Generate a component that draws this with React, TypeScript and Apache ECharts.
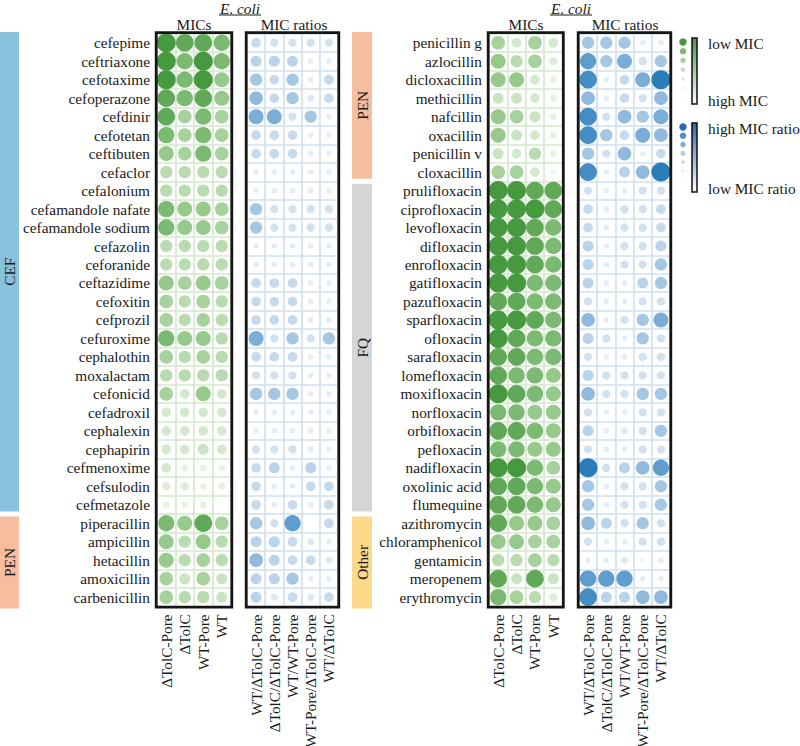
import React, { useEffect, useRef } from "react";
import * as echarts from "echarts";

// ---------- data ----------
const MIC_COLS = ["ΔTolC-Pore", "ΔTolC", "WT-Pore", "WT"];
const RATIO_COLS = ["WT/ΔTolC-Pore", "ΔTolC/ΔTolC-Pore", "WT/WT-Pore", "WT-Pore/ΔTolC-Pore", "WT/ΔTolC"];

const LEFT_DRUGS = [
  "cefepime", "ceftriaxone", "cefotaxime", "cefoperazone", "cefdinir", "cefotetan", "ceftibuten",
  "cefaclor", "cefalonium", "cefamandole nafate", "cefamandole sodium", "cefazolin", "ceforanide",
  "ceftazidime", "cefoxitin", "cefprozil", "cefuroxime", "cephalothin", "moxalactam", "cefonicid",
  "cefadroxil", "cephalexin", "cephapirin", "cefmenoxime", "cefsulodin", "cefmetazole",
  "piperacillin", "ampicillin", "hetacillin", "amoxicillin", "carbenicillin",
];
const LEFT_GROUP_NAMES = ["CEF", "PEN"];
const LEFT_GROUP_SIZES = [26, 5];

const RIGHT_DRUGS = [
  "penicillin g", "azlocillin", "dicloxacillin", "methicillin", "nafcillin", "oxacillin", "penicillin v",
  "cloxacillin", "prulifloxacin", "ciprofloxacin", "levofloxacin", "difloxacin", "enrofloxacin",
  "gatifloxacin", "pazufloxacin", "sparfloxacin", "ofloxacin", "sarafloxacin", "lomefloxacin",
  "moxifloxacin", "norfloxacin", "orbifloxacin", "pefloxacin", "nadifloxacin", "oxolinic acid",
  "flumequine", "azithromycin", "chloramphenicol", "gentamicin", "meropenem", "erythromycin",
];
const RIGHT_GROUP_NAMES = ["PEN", "FQ", "Other"];
const RIGHT_GROUP_SIZES = [8, 18, 5];

// MIC score (0 = high MIC, 6 = low MIC)
const LEFT_MIC: (number | null)[][] = [
  [6, 5.5, 5.5, 5], [6, 5, 6, 5], [6, 5, 6, 4.5], [5.5, 5, 5.5, 4.5], [5.5, 4, 5, 4],
  [5, 4, 5, 4], [4.5, 4, 5, 4], [3.5, 3.5, 3.5, 3.5], [3.5, 3.5, 3.5, 3.5], [5, 4.5, 4.5, 4],
  [5, 4.5, 4.5, 4], [3.5, 3.5, 3.5, 3.5], [3.5, 3.5, 3.5, 3.5], [4.5, 4, 4.5, 4], [4, 3.5, 4, 3.5],
  [4, 3.5, 4, 3.5], [5, 4.5, 4.5, 3.5], [4, 3.5, 4, 3.5], [3.5, 3.5, 3.5, 3.5], [4, 2.5, 4.5, 2.5],
  [2.5, 2.5, 2.5, 2.5], [2.5, 2.5, 2.5, 2.5], [2.5, 2.5, 3, 2.5], [2.5, 1.5, 1.5, 1.5], [2, 2, 1.5, 1.5],
  [1.5, 1.5, 1.5, null], [5, 4.5, 5.5, 4], [4.5, 3.5, 4.5, 3.5], [4.5, 3.5, 4, 3.5], [4, 3, 4, 3],
  [4, 3.5, 3.5, 3],
];
// MIC ratio score (0 = low ratio, 6 = high ratio)
const LEFT_RATIO: (number | null)[][] = [
  [2.5, 2, 2, 2, 2], [3, 3, 3, 1, 1], [3.5, 2.5, 3.5, 1, 2.5], [4, 2.5, 3.5, 1.5, 2.5], [4.5, 4.5, 2, 3.5, 1],
  [2.5, 2.5, 2.5, 1, 1], [2.5, 2.5, 2.5, 1, 1], [1, 1, 1, 1, 1], [1, 1, 1, 1, 1], [3.5, 2, 2, 2, 2],
  [3.5, 2, 2, 2, 2], [1, 1, 1, 1, 1], [1, 1, 1, 1, 1], [2.5, 2.5, 2.5, 1, 1], [2.5, 2.5, 2.5, 1, 1],
  [2.5, 2.5, 2.5, 1, 1], [4.5, 2, 3.5, 2, 3.5], [2.5, 2.5, 2.5, 1, 1], [2, 2, 2, 1, 1], [3.5, 3.5, 3.5, 1, 1],
  [1, 1, 1, 1, 1], [1, 1, 1, 1, 1], [2, 2, 2, 1, 1], [2.5, 3, 1, 3, 1], [2.5, 1, 1, 2.5, 2.5],
  [2.5, 1, 2.5, 1, 2.5], [3.5, 2, 5, null, 2.5], [3, 3, 2.5, 1.5, 1], [4, 3, 2.5, 2.5, 1.5], [3, 3, 3.5, 1, 1],
  [3, 1.5, 2.5, 1.5, 2.5],
];
const RIGHT_MIC: (number | null)[][] = [
  [4, 2.5, 4, 2.5], [4.5, 3.5, 4, 2], [4.5, 4.5, 2.5, 1.5], [3, 3, 2.5, 1.5], [4.5, 4, 3, 1.5],
  [4.5, 3, 2.5, 1.5], [3, 2.5, 3.5, 1.5], [4, 4, 2.5, 1], [6, 6, 5.5, 5.5], [6, 6, 6, 5.5],
  [6, 6, 5.5, 5], [6, 6, 5.5, 5], [6, 6, 5.5, 5], [6, 6, 5, 5], [5.5, 5.5, 5, 5],
  [6, 6, 5.5, 5], [6, 5.5, 5, 5], [5.5, 5.5, 5, 5], [5.5, 5, 5, 4.5], [6, 5.5, 5, 4.5],
  [5, 5, 4.5, 4.5], [5.5, 5.5, 5, 4.5], [5, 5, 4.5, 4.5], [6, 6, 5, 4], [5.5, 5.5, 5, 4.5],
  [5.5, 5.5, 5, 4.5], [5.5, 4.5, 4.5, 4], [4.5, 4.5, 4, 4], [3.5, 3.5, 4, 3.5], [5.5, 3, 5.5, 3],
  [5, 4, 3.5, 2],
];
const RIGHT_RATIO: (number | null)[][] = [
  [3.5, 3.5, 3.5, 1, 1], [5, 3.5, 4.5, 2, 3.5], [5.5, 1, 2.5, 4.5, 6], [4, 1, 2.5, 2, 4], [5.5, 2, 4, 3.5, 4.5],
  [5.5, 3.5, 2.5, 4.5, 4], [3.5, 2, 4, 1, 2.5], [5.5, 1, 3, 4, 6], [2, 1, 1, 2, 2], [2.5, 1, 2, 2, 2.5],
  [2.5, 1, 2, 2, 2.5], [3, 1, 2, 2, 3], [3, 1, 2, 2, 3.5], [3, 1, 1, 3, 3.5], [2, 1, 1, 2, 2],
  [4, 1, 2, 3.5, 4.5], [3, 2, 1, 3.5, 2], [2, 1, 1, 2, 2], [3, 2, 2, 2, 2], [4, 2, 2, 3.5, 3.5],
  [2, 1, 1, 2, 2], [3, 1, 1.5, 2, 3.5], [2, 1, 1, 2, 2], [6, 2, 3, 4, 5], [3.5, 1, 2, 2, 3.5],
  [3.5, 1, 2, 2, 3.5], [4, 3, 2, 3.5, 2], [2, 1, 1, 2, 2], [1, 1, 1.5, 0.5, 1], [5, 5, 5, 1, 1],
  [5.5, 3, 3, 4, 4],
];

const HEADER_TITLE = "E. coli";
const HEADER_MIC = "MICs";
const HEADER_RATIO = "MIC ratios";
const LEGEND_MIC_LABELS = ["low MIC", "high MIC"];
const LEGEND_RATIO_LABELS = ["high MIC ratio", "low MIC ratio"];
const LEGEND_LEVELS = [6, 5, 4, 3, 2, 1, 0];

// ---------- styles ----------
const FONT = "Liberation Serif";
const FS = 15.3;
const GREENS = ["#f7fbf6", "#e6f2e3", "#c9e4c1", "#96c98b", "#47993f"];
const BLUES = ["#f3f7fb", "#dde8f3", "#b9d3ea", "#7aaed6", "#2a7db8"];
const LEGEND_BLUES = ["#f3f6fb", "#dbe5f2", "#b3c9e6", "#7199cf", "#2d68b3"];
const GROUP_COLORS: Record<string, string> = { CEF: "#88c2dd", PEN: "#f7bd9f", FQ: "#d4d5d6", Other: "#fdd98c" };

const TOP = 33.5;
const ROW_H = 18.48;
const N_ROWS = 31;
const HEIGHT = ROW_H * N_ROWS;

function toPoints(m: (number | null)[][]) {
  const out: number[][] = [];
  m.forEach((row, i) => row.forEach((v, j) => { if (v !== null) out.push([j, i, v]); }));
  return out;
}

export default function App() {
  const ref = useRef<HTMLDivElement>(null);
  useEffect(() => {
    if (!ref.current) return;
    const chart = echarts.init(ref.current, undefined, { renderer: "svg" });

    const grids = [
      { left: 157, width: 74, cols: MIC_COLS, rows: LEFT_DRUGS, showY: true, line: "#d3e8cd" },
      { left: 247, width: 91, cols: RATIO_COLS, rows: LEFT_DRUGS, showY: false, line: "#cfe0ef" },
      { left: 489, width: 73.5, cols: MIC_COLS, rows: RIGHT_DRUGS, showY: true, line: "#d3e8cd" },
      { left: 579, width: 91, cols: RATIO_COLS, rows: RIGHT_DRUGS, showY: false, line: "#cfe0ef" },
    ];
    const datas = [LEFT_MIC, LEFT_RATIO, RIGHT_MIC, RIGHT_RATIO];

    const graphic: any[] = [];
    const text = (t: string, x: number, y: number, opts: any = {}) => ({
      type: "text", x, y, rotation: opts.rotation || 0, silent: true, z: 50,
      style: {
        text: t, x: 0, y: 0, fill: "#1a1a1a",
        fontFamily: FONT, fontSize: opts.size || FS, fontStyle: opts.italic ? "italic" : "normal",
        textAlign: opts.align || "center", textVerticalAlign: "middle",
      },
    });

    const headers = [
      { mic: 194, ratio: 294, title: 240 },
      { mic: 526, ratio: 625, title: 571 },
    ];
    headers.forEach((h) => {
      graphic.push(text(HEADER_TITLE, h.title, 8, { italic: true }));
      graphic.push({ type: "line", z: 50, shape: { x1: h.title - 21, y1: 15, x2: h.title + 21, y2: 15 }, style: { stroke: "#1a1a1a", lineWidth: 1 } });
      graphic.push(text(HEADER_MIC, h.mic, 24.5));
      graphic.push(text(HEADER_RATIO, h.ratio, 24.5));
    });

    // box borders over the grid edges
    grids.forEach((g) => {
      graphic.push({
        type: "rect", z: 60, silent: true,
        shape: { x: g.left - 0.8, y: TOP - 0.8, width: g.width + 1.6, height: HEIGHT + 1.6 },
        style: { fill: "none", stroke: "#151515", lineWidth: 2.8 },
      });
    });

    const addGroups = (names: string[], sizes: number[], x: number, w: number) => {
      let start = 0;
      names.forEach((n, k) => {
        const y0 = TOP + start * ROW_H + (start === 0 ? -1.5 : 2.5);
        const y1 = TOP + (start + sizes[k]) * ROW_H + (k === names.length - 1 ? 2 : -2.5);
        graphic.push({ type: "rect", shape: { x, y: y0, width: w, height: y1 - y0 }, style: { fill: GROUP_COLORS[n] }, silent: true });
        graphic.push(text(n, x + w / 2, (y0 + y1) / 2, { rotation: Math.PI / 2 }));
        start += sizes[k];
      });
    };
    addGroups(LEFT_GROUP_NAMES, LEFT_GROUP_SIZES, 0, 19);
    addGroups(RIGHT_GROUP_NAMES, RIGHT_GROUP_SIZES, 352, 20);

    const addLegend = (colors: string[], y0: number, y1: number, step: number, labels: string[]) => {
      LEGEND_LEVELS.forEach((lv, k) => {
        graphic.push({
          type: "circle", shape: { cx: 683, cy: y0 + 4 + k * step, r: 1 + lv * 0.45 },
          style: { fill: echarts.color.lerp(lv / 6, colors) as string }, silent: true,
        });
      });
      graphic.push({
        type: "rect", shape: { x: 692, y: y0, width: 5, height: y1 - y0 }, silent: true,
        style: {
          fill: new echarts.graphic.LinearGradient(0, 0, 0, 1, [
            { offset: 0, color: colors[colors.length - 1] },
            { offset: 1, color: "#ffffff" },
          ]),
          stroke: "#111", lineWidth: 1.5,
        },
      });
      graphic.push(text(labels[0], 708, y0 + 5, { align: "left" }));
      graphic.push(text(labels[1], 708, y1 - 4, { align: "left" }));
    };
    addLegend(GREENS, 38, 104, 9.2, LEGEND_MIC_LABELS);
    addLegend(LEGEND_BLUES, 123, 192, 8.8, LEGEND_RATIO_LABELS);

    const option: any = {
      animation: false,
      backgroundColor: "#ffffff",
      grid: grids.map((g) => ({
        left: g.left, top: TOP, width: g.width, height: HEIGHT,
        containLabel: false, outerBoundsMode: "none",
        show: true, borderWidth: 0, backgroundColor: "#ffffff",
      })),
      xAxis: grids.map((g, i) => ({
        type: "category", gridIndex: i, data: g.cols, position: "bottom",
        axisLine: { show: false }, axisTick: { show: false },
        axisLabel: { interval: 0, rotate: 90, margin: 8, color: "#1a1a1a", fontSize: FS, fontFamily: FONT },
        splitLine: { show: true, interval: 0, lineStyle: { color: g.line, width: 1.6 } },
      })),
      yAxis: grids.map((g, i) => ({
        type: "category", gridIndex: i, data: g.rows, inverse: true,
        axisLine: { show: false }, axisTick: { show: false },
        axisLabel: { show: g.showY, interval: 0, margin: 7, color: "#1a1a1a", fontSize: FS, fontFamily: FONT },
        splitLine: { show: true, interval: 0, lineStyle: { color: g.line, width: 1.6 } },
      })),
      visualMap: [
        {
          type: "continuous", show: false, dimension: 2, seriesIndex: [0, 2], min: 0, max: 6,
          inRange: { color: GREENS, symbolSize: [3, 19] },
        },
        {
          type: "continuous", show: false, dimension: 2, seriesIndex: [1, 3], min: 0, max: 6,
          inRange: { color: BLUES, symbolSize: [3, 19] },
        },
      ],
      series: datas.map((d, i) => ({
        type: "scatter", xAxisIndex: i, yAxisIndex: i, symbol: "circle",
        data: toPoints(d), itemStyle: { opacity: 1 }, silent: true,
      })),
      graphic,
    };
    chart.setOption(option);
    return () => chart.dispose();
  }, []);

  return <div ref={ref} style={{ position: "fixed", left: 0, top: 0, width: 800, height: 746 }} />;
}
